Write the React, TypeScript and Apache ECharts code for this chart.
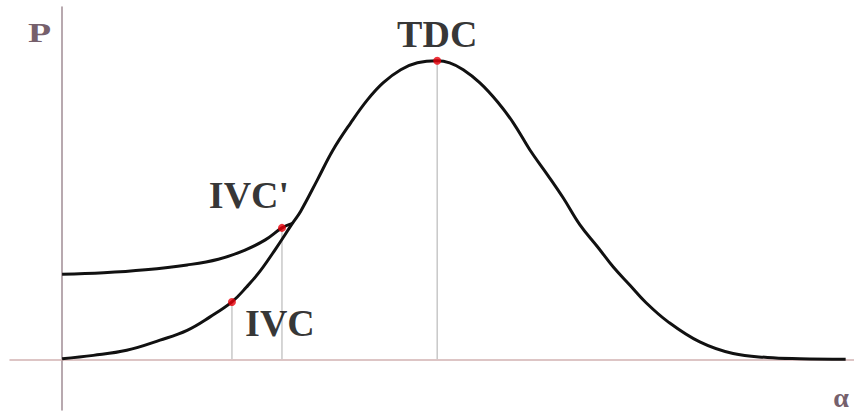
import React, { useEffect, useRef } from "react";
import * as echarts from "echarts";

// crank angle (deg) and pressure (relative)
const mainCurveX = [0, 30, 62, 94, 120, 142, 163, 177, 190, 205, 221, 229, 245, 260, 277, 293, 308, 325, 341, 360,
  372, 385, 401, 418, 433, 449, 466, 481, 497, 514, 529, 545, 560, 581, 612, 644, 677, 708, 752];
const mainCurveP = [0.2, 1.3, 3.0, 6.4, 9.7, 14.2, 19.2, 24.2, 29.5, 37.0, 45.5, 49.6, 60.1, 70.1, 79.2, 86.9, 92.6, 97.0, 99.3, 100,
  99.3, 97.0, 92.6, 86.2, 79.2, 70.1, 61.7, 54.0, 45.0, 37.6, 30.9, 24.8, 19.1, 12.7, 5.8, 1.9, 0.6, 0.2, 0];

const lateCurveX = [0, 40, 80, 120, 150, 175, 195, 211, 221];
const lateCurveP = [28.5, 29.0, 30.0, 31.6, 33.5, 36.5, 40.0, 44.0, 45.5];

const markerNames = ["IVC", "IVC'", "TDC"];
const markerX = [163, 211, 360];
const markerP = [19.2, 44.0, 100];
const labelOffsets: [number, number][] = [[48, 21], [-33, -33], [0, -27]];

const xMin = -50;
const xMax = 760;
const yMin = -17;
const yMax = 118;

export default function App() {
  const ref = useRef<HTMLDivElement>(null);
  useEffect(() => {
    if (!ref.current) return;
    const chart = echarts.init(ref.current, null, { renderer: "svg" });
    const curveStyle = { color: "#111", width: 3 };
    const dropLines = markerNames.map((name, i) => ({
      type: "line",
      name: name + "-drop",
      data: [[markerX[i], 0], [markerX[i], markerP[i]]],
      symbol: "none",
      lineStyle: { color: "#c8c8c8", width: 1.5 },
      z: 1,
      silent: true,
    }));
    chart.setOption({
      animation: false,
      backgroundColor: "#fff",
      grid: { left: 10, right: 0, top: 7, bottom: 2, containLabel: false },
      xAxis: {
        type: "value",
        min: xMin,
        max: xMax,
        axisLine: { onZero: true, lineStyle: { color: "#d2b2b2", width: 1.5 } },
        axisTick: { show: false },
        axisLabel: { show: false },
        splitLine: { show: false },
      },
      yAxis: {
        type: "value",
        min: yMin,
        max: yMax,
        axisLine: { show: true, onZero: true, lineStyle: { color: "#a08d95", width: 1.5 } },
        axisTick: { show: false },
        axisLabel: { show: false },
        splitLine: { show: false },
      },
      graphic: [
        {
          type: "text",
          x: 39.5,
          y: 33,
          scaleX: 1.4,
          style: {
            text: "P",
            font: "bold 27px 'Liberation Serif', serif",
            fill: "#76606c",
            align: "center",
            verticalAlign: "middle",
          },
        },
        {
          type: "text",
          x: 841,
          y: 397,
          style: {
            text: "α",
            font: "bold 28px 'Liberation Serif', serif",
            fill: "#76606c",
            align: "center",
            verticalAlign: "middle",
          },
        },
      ],
      series: [
        ...dropLines,
        {
          type: "line",
          name: "late",
          data: lateCurveX.map((x, i) => [x, lateCurveP[i]]),
          smooth: 0.4,
          symbol: "none",
          lineStyle: curveStyle,
          z: 2,
        },
        {
          type: "line",
          name: "main",
          data: mainCurveX.map((x, i) => [x, mainCurveP[i]]),
          smooth: 0.4,
          symbol: "none",
          lineStyle: curveStyle,
          z: 3,
        },
        {
          type: "scatter",
          name: "points",
          data: markerNames.map((n, i) => ({
            name: n,
            value: [markerX[i], markerP[i]],
            label: {
              show: true,
              formatter: n,
              position: "inside",
              offset: labelOffsets[i],
              align: "center",
              verticalAlign: "middle",
              color: "#000",
              fontFamily: "'Liberation Serif', serif",
              fontWeight: "bold",
              fontSize: 38,
            },
          })),
          symbol: "circle",
          symbolSize: 8,
          itemStyle: { color: "#e8000a" },
          z: 5,
        },
      ],
    });
    return () => chart.dispose();
  }, []);
  return <div ref={ref} style={{ width: 854, height: 412, position: "absolute", left: 0, top: 0 }} />;
}
